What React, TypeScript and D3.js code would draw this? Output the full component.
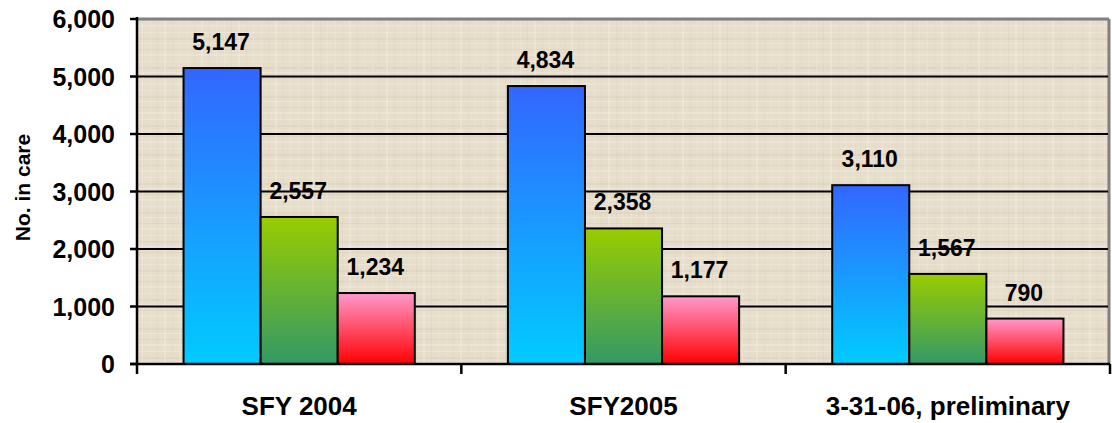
import React from "react";
import * as d3 from "d3";

const categories = ["SFY 2004", "SFY2005", "3-31-06, preliminary"];
const seriesNames = ["Series A", "Series B", "Series C"];
const seriesA = [5147, 4834, 3110];
const seriesB = [2557, 2358, 1567];
const seriesC = [1234, 1177, 790];
const yTicks = [0, 1000, 2000, 3000, 4000, 5000, 6000];
const yTitle = "No. in care";

const W = 1112;
const H = 423;
const M = { left: 137, right: 1110, top: 19, bottom: 364 };
const FONT = "'Liberation Sans', Arial, Helvetica, sans-serif";

const gradients = [
  { id: "gA", top: "#3366FF", bottom: "#00CCFF" },
  { id: "gB", top: "#99CC00", bottom: "#339966" },
  { id: "gC", top: "#FF99CC", bottom: "#FF0000" },
];

// decorative texture strokes for the linen-like plot background
const texH = [
  { y: 3, h: 1, c: "#f4eee2" },
  { y: 9, h: 2, c: "#d9cfba" },
  { y: 14, h: 1, c: "#f6f1e6" },
  { y: 20, h: 1, c: "#d6ccb6" },
  { y: 25, h: 2, c: "#f2ecdf" },
];
const texV = [
  { x: 2, w: 1, c: "#f3ede1" },
  { x: 9, w: 1, c: "#d8cdb7" },
  { x: 16, w: 2, c: "#f5f0e5" },
  { x: 24, w: 1, c: "#d9cfba" },
  { x: 31, w: 1, c: "#f2ebde" },
];

export default function App() {
  const x0 = d3
    .scaleBand<string>()
    .domain(categories)
    .range([M.left, M.right])
    .paddingInner(0.287)
    .paddingOuter(0.1435);
  const x1 = d3
    .scaleBand<string>()
    .domain(seriesNames)
    .range([0, x0.bandwidth()])
    .padding(0);
  const y = d3.scaleLinear().domain([0, 6000]).range([M.bottom, M.top]);
  const fmt = d3.format(",");
  const allSeries = [seriesA, seriesB, seriesC];
  const step = x0.step();
  const catTicks = d3.range(categories.length + 1).map((i) => M.left + i * step);

  return (
    <svg
      width={W}
      height={H}
      style={{ position: "absolute", left: 0, top: 0, background: "#fff" }}
      fontFamily={FONT}
    >
      <defs>
        {gradients.map((g) => (
          <linearGradient key={g.id} id={g.id} x1="0" y1="0" x2="0" y2="1">
            <stop offset="0%" stopColor={g.top} />
            <stop offset="100%" stopColor={g.bottom} />
          </linearGradient>
        ))}
        <pattern id="linen" width="37" height="29" patternUnits="userSpaceOnUse">
          <rect width="37" height="29" fill="#e6ddca" />
          {texH.map((t, i) => (
            <rect key={"h" + i} x={0} y={t.y} width={37} height={t.h} fill={t.c} opacity={0.45} />
          ))}
          {texV.map((t, i) => (
            <rect key={"v" + i} x={t.x} y={0} width={t.w} height={29} fill={t.c} opacity={0.35} />
          ))}
        </pattern>
      </defs>

      {/* plot background */}
      <rect
        x={M.left}
        y={M.top}
        width={M.right - M.left}
        height={M.bottom - M.top}
        fill="url(#linen)"
      />
      {/* gray frame top/right */}
      <line x1={M.left} x2={M.right - 1} y1={M.top} y2={M.top} stroke="#808080" strokeWidth={3} />
      <line x1={M.right - 1} x2={M.right - 1} y1={M.top} y2={M.bottom} stroke="#808080" strokeWidth={3} />

      {/* gridlines */}
      {yTicks
        .filter((t) => t > 0 && t < 6000)
        .map((t) => (
          <line
            key={t}
            x1={M.left}
            x2={M.right - 2}
            y1={y(t)}
            y2={y(t)}
            stroke="#000"
            strokeWidth={2}
          />
        ))}

      {/* bars */}
      {categories.map((c, ci) =>
        allSeries.map((s, si) => {
          const bx = (x0(c) as number) + (x1(seriesNames[si]) as number);
          const by = y(s[ci]);
          return (
            <rect
              key={c + si}
              x={bx}
              y={by}
              width={x1.bandwidth()}
              height={M.bottom - by}
              fill={`url(#${gradients[si].id})`}
              stroke="#000"
              strokeWidth={2}
            />
          );
        })
      )}

      {/* value labels */}
      {categories.map((c, ci) =>
        allSeries.map((s, si) => {
          const bx = (x0(c) as number) + (x1(seriesNames[si]) as number) + x1.bandwidth() / 2;
          return (
            <text
              key={"l" + c + si}
              x={bx - 1}
              y={y(s[ci]) - 18}
              textAnchor="middle"
              fontSize={23}
              fontWeight="bold"
              fill="#000"
            >
              {fmt(s[ci])}
            </text>
          );
        })
      )}

      {/* axes */}
      <line x1={M.left} x2={M.left} y1={M.top - 2} y2={M.bottom + 1} stroke="#000" strokeWidth={2.5} />
      <line x1={M.left - 7} x2={M.right} y1={M.bottom} y2={M.bottom} stroke="#000" strokeWidth={2.5} />
      {yTicks.map((t) => (
        <g key={"yt" + t}>
          <line x1={M.left - 7} x2={M.left} y1={y(t)} y2={y(t)} stroke="#000" strokeWidth={2.5} />
          <text
            x={115}
            y={y(t)}
            dy="0.36em"
            textAnchor="end"
            fontSize={25}
            fontWeight="bold"
            fill="#000"
          >
            {fmt(t)}
          </text>
        </g>
      ))}
      {catTicks.map((tx, i) => (
        <line key={"ct" + i} x1={tx} x2={tx} y1={M.bottom} y2={M.bottom + 10} stroke="#000" strokeWidth={2.5} />
      ))}
      {categories.map((c) => (
        <text
          key={"cl" + c}
          x={(x0(c) as number) + x0.bandwidth() / 2}
          y={415}
          textAnchor="middle"
          fontSize={26}
          fontWeight="bold"
          fill="#000"
        >
          {c}
        </text>
      ))}
      <text
        transform={`translate(30,${(M.top + M.bottom) / 2 - 4}) rotate(-90)`}
        textAnchor="middle"
        fontSize={21}
        fontWeight="bold"
        fill="#000"
      >
        {yTitle}
      </text>
    </svg>
  );
}
